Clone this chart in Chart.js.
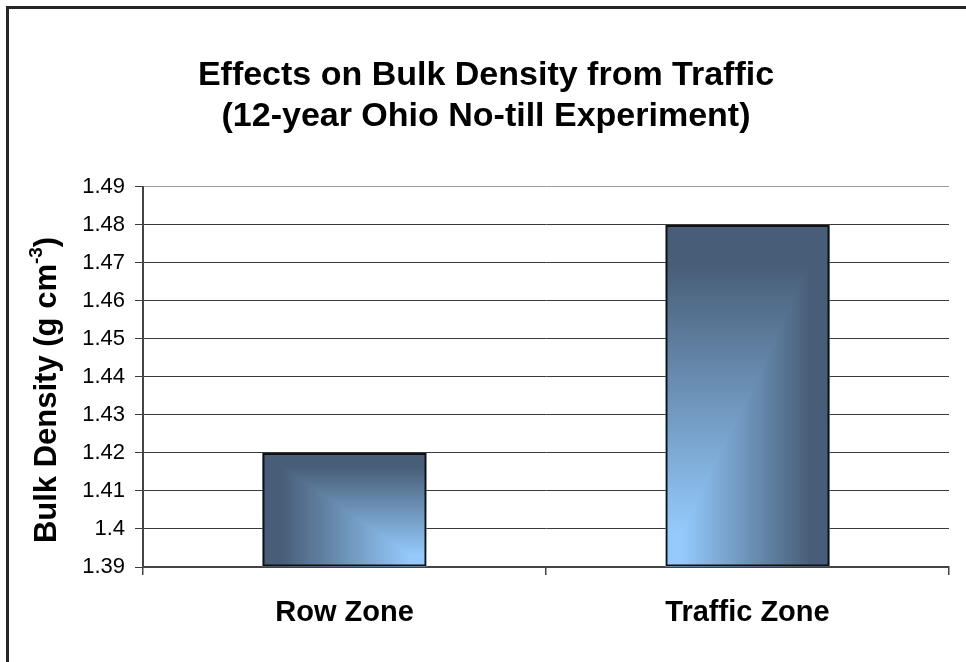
<!DOCTYPE html>
<html>
<head>
<meta charset="utf-8">
<script src="https://cdn.jsdelivr.net/npm/chart.js@4.4.1/dist/chart.umd.min.js"></script>
<style>
  body { margin: 0; background: #fff; }
  #wrap { position: relative; width: 966px; height: 662px; overflow: hidden; }
  #frame {
    position: absolute; left: 6px; top: 6px; width: 1000px; height: 700px;
    border-left: 3px solid #262626; border-top: 3px solid #262626;
    pointer-events: none;
  }
</style>
</head>
<body>
<div id="wrap">
  <canvas id="bulkChart" width="966" height="662"></canvas>
  <div id="frame"></div>
</div>
<script>
const categories = ['Row Zone', 'Traffic Zone'];
const bulkDensity = [1.42, 1.48];
const yMin = 1.39;
const yMax = 1.49;
const yStep = 0.01;
const titleLines = ['Effects on Bulk Density from Traffic', '(12-year Ohio No-till Experiment)'];
const yTitle = 'Bulk Density (g cm';
const yTitleSup = '-3';

const FONT = "'Liberation Sans', Arial, sans-serif";

function addStops(g, dark, light) {
    g.addColorStop(0, dark);
    g.addColorStop(0.12, dark);
    g.addColorStop(0.9, light);
    g.addColorStop(1, light);
}

// Excel-like "from corner" gradient fill under each bar
const cornerGradient = {
    id: 'cornerGradient',
    beforeDatasetsDraw(chart, args, opts) {
        const ctx = chart.ctx;
        chart.getDatasetMeta(0).data.forEach((bar, i) => {
            const p = bar.getProps(['x', 'y', 'base', 'width'], true);
            const l = p.x - p.width / 2, r = p.x + p.width / 2;
            const t = Math.min(p.y, p.base), b = Math.max(p.y, p.base);
            const lightRight = opts.lightCorner[i] === 'right';
            const lightX = lightRight ? r : l;
            const darkX = lightRight ? l : r;

            ctx.save();
            const gv = ctx.createLinearGradient(0, t, 0, b);
            addStops(gv, opts.dark, opts.light);
            ctx.fillStyle = gv;
            ctx.fillRect(l, t, r - l, b - t);

            const gh = ctx.createLinearGradient(darkX, 0, lightX, 0);
            addStops(gh, opts.dark, opts.light);
            ctx.fillStyle = gh;
            ctx.beginPath();
            ctx.moveTo(darkX, t);
            ctx.lineTo(darkX, b);
            ctx.lineTo(lightX, b);
            ctx.closePath();
            ctx.fill();
            ctx.restore();
        });
    }
};

// rotated y axis title with a real superscript
const yTitlePlugin = {
    id: 'yTitlePlugin',
    afterDraw(chart, args, opts) {
        const ctx = chart.ctx;
        const area = chart.chartArea;
        ctx.save();
        ctx.fillStyle = '#000';
        ctx.textBaseline = 'alphabetic';
        ctx.textAlign = 'left';
        const mainFont = 'bold ' + opts.size + 'px ' + FONT;
        const supFont = 'bold ' + opts.supSize + 'px ' + FONT;
        ctx.font = mainFont;
        const w1 = ctx.measureText(yTitle).width;
        const w3 = ctx.measureText(')').width;
        ctx.font = supFont;
        const w2 = ctx.measureText(yTitleSup).width;
        const total = w1 + w2 + w3;
        const cy = (area.top + area.bottom) / 2 + opts.shift;
        ctx.translate(opts.x, cy);
        ctx.rotate(-Math.PI / 2);
        let x = -total / 2;
        ctx.font = mainFont;
        ctx.fillText(yTitle, x, 0);
        x += w1;
        ctx.font = supFont;
        ctx.fillText(yTitleSup, x, -opts.raise);
        x += w2;
        ctx.font = mainFont;
        ctx.fillText(')', x, 0);
        ctx.restore();
    }
};

new Chart(document.getElementById('bulkChart'), {
    type: 'bar',
    data: {
        labels: categories,
        datasets: [{
            data: bulkDensity,
            base: yMin,
            backgroundColor: 'rgba(0,0,0,0)',
            borderColor: '#111',
            borderWidth: 2,
            borderSkipped: false,
            categoryPercentage: 1,
            barPercentage: 0.407
        }]
    },
    options: {
        responsive: false,
        animation: false,
        layout: { padding: { left: 23, right: 17, top: 0, bottom: 0 } },
        plugins: {
            legend: { display: false },
            tooltip: { enabled: false },
            title: {
                display: true,
                text: titleLines,
                color: '#000',
                font: { family: FONT, size: 34, weight: 'bold', lineHeight: 1.22 },
                padding: { top: 54.5, bottom: 49.5 }
            },
            cornerGradient: {
                dark: '#485e78',
                light: '#94cafc',
                lightCorner: ['right', 'left']
            },
            yTitlePlugin: { x: 56, size: 31, supSize: 19, raise: 14, shift: 13 }
        },
        scales: {
            x: {
                afterFit(scale) { scale.height = 95; },
                grid: {
                    offset: true,
                    drawOnChartArea: true,
                    drawTicks: true,
                    tickLength: 8,
                    color: ctx => ctx.index === 2 ? '#9a9a9a' : 'rgba(0,0,0,0)',
                    tickColor: '#444',
                    lineWidth: 1.5
                },
                border: { display: true, color: '#444', width: 2 },
                ticks: {
                    color: '#000',
                    padding: 21,
                    font: { family: FONT, size: 29, weight: 'bold' }
                }
            },
            y: {
                min: yMin,
                max: yMax,
                afterFit(scale) { scale.width = 120; },
                grid: {
                    drawTicks: true,
                    tickLength: 8,
                    color: ctx => ctx.index === 10 ? '#9a9a9a' : '#3a3a3a',
                    tickColor: '#3a3a3a',
                    lineWidth: 1
                },
                border: { display: true, color: '#444', width: 2 },
                ticks: {
                    stepSize: yStep,
                    color: '#000',
                    padding: 10,
                    font: { family: FONT, size: 22 },
                    callback: v => String(+v.toFixed(2))
                }
            }
        }
    },
    plugins: [cornerGradient, yTitlePlugin]
});
</script>
</body>
</html>
